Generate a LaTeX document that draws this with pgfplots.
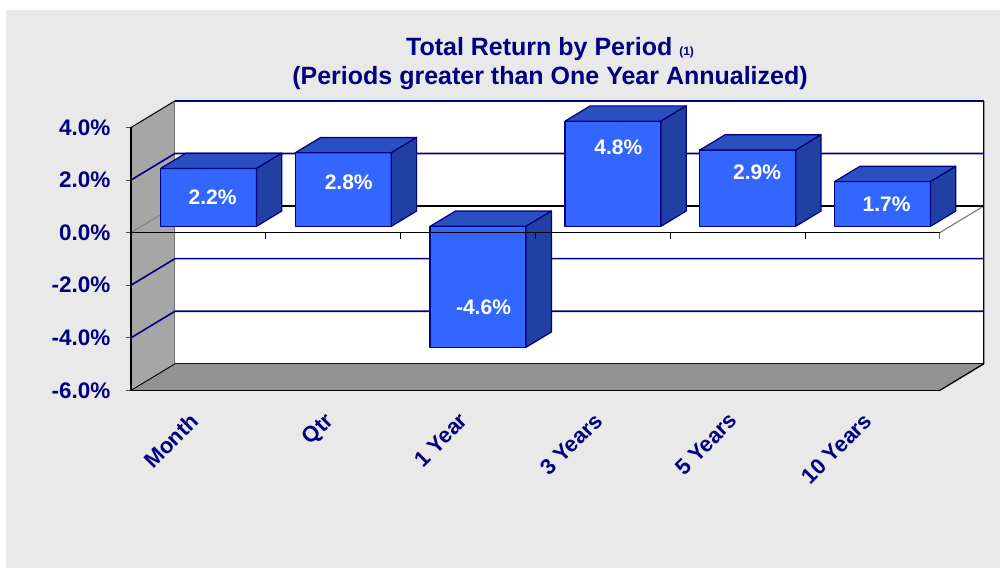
\documentclass[border=0pt]{standalone}
\usepackage{pgfplots}
\pgfplotsset{compat=1.18}
\usepackage{fontspec}
\setmainfont{Liberation Sans}
\definecolor{bgc}{HTML}{E9E9E9}
\definecolor{navyc}{HTML}{000080}
\definecolor{wallc}{HTML}{A6A6A6}
\definecolor{floorc}{HTML}{929292}
\definecolor{facec}{HTML}{3366FF}
\definecolor{topc}{HTML}{2A50BF}
\definecolor{sidec}{HTML}{2140A3}
\pgfplotsset{
  frame/.style={scale only axis,width=853pt,height=290pt,at={(131pt,177.6pt)},anchor=south west,
    xmin=0,xmax=6.328,ymin=-6,ymax=5.03,clip=false},
  barframe/.style={scale only axis,width=853pt,height=290pt,at={(131pt,177.6pt)},anchor=south west,
    xmin=-0.575,xmax=5.753,ymin=-6.24,ymax=4.79,clip=false,hide axis},
}
\begin{document}
\begin{tikzpicture}[x=1pt,y=1pt]
\useasboundingbox (0,0) rectangle (1000,568);
\fill[white] (0,0) rectangle (1000,568);
\fill[bgc] (6,0) rectangle (1000,558);
\node[font=\fontsize{25}{29}\selectfont\bfseries,text=navyc,align=center] at (550,504)
  {Total Return by Period {\fontsize{12}{12}\selectfont (1)}\\(Periods greater than One Year Annualized)};
% walls, floor and grid
\begin{axis}[frame,
  axis line style={draw=none},
  tick pos=left,
  xtick={0.5,1.5,2.5,3.5,4.5,5.5},
  xticklabels={Month,Qtr,1 Year,3 Years,5 Years,10 Years},
  x tick style={draw=none},
  xticklabel style={rotate=45,anchor=north east,font=\fontsize{22}{22}\selectfont\bfseries,text=navyc,xshift=-14.8pt,yshift=-1pt},
  ytick={-6,-4,-2,0,2,4},
  yticklabels={-6.0\%,-4.0\%,-2.0\%,0.0\%,2.0\%,4.0\%},
  y tick style={draw=black!70,line width=0.8pt},
  tick align=outside, major tick length=5pt,
  yticklabel style={font=\fontsize{22.5}{22.5}\selectfont\bfseries,text=navyc,xshift=-12pt},
]
\addplot[draw=none,fill=white] coordinates {(0.326,-4.99)(6.326,-4.99)(6.326,5.01)(0.326,5.01)} -- cycle;
\addplot[draw=none,fill=wallc] coordinates {(0,-6)(0.326,-4.99)(0.326,5.01)(0,4)} -- cycle;
\addplot[draw=none,fill=floorc] coordinates {(0,-6)(6,-6)(6.326,-4.99)(0.326,-4.99)} -- cycle;
\addplot[draw=black!55,line width=1pt] coordinates {(0.326,5.01)(0.326,-4.99)};
\addplot[draw=navyc,line width=1.6pt] coordinates {(0,2)(0.326,3.01)(6.326,3.01)};
\addplot[draw=navyc,line width=1.6pt] coordinates {(0,-2)(0.326,-0.99)(6.326,-0.99)};
\addplot[draw=navyc,line width=1.6pt] coordinates {(0,-4)(0.326,-2.99)(6.326,-2.99)};
\addplot[draw=navyc,line width=0.8pt] coordinates {(0.326,-4.99)(6.326,-4.99)};
\addplot[draw=navyc,line width=1.6pt] coordinates {(0.326,5.01)(6.326,5.01)};
\addplot[draw=black,line width=1pt] coordinates {(0,4)(0.326,5.01)};
\addplot[draw=black,line width=0.9pt] coordinates {(0,-6)(0.326,-4.99)};
\addplot[draw=black!50,line width=1pt] coordinates {(0,0)(0.326,1.01)};
\addplot[draw=black!50,line width=1.2pt] coordinates {(6,0)(6.326,1.01)};
\addplot[draw=black,line width=1.4pt] coordinates {(0.326,1.01)(6.326,1.01)};
\addplot[draw=black,line width=1.3pt] coordinates {(6.326,5.01)(6.326,-4.99)(6,-6)};
\addplot[draw=black,line width=1.7pt] coordinates {(0,4)(0,-6)(6,-6)};
\end{axis}
% bars
\begin{axis}[barframe]
\addplot[ybar,bar width=96pt,bar shift=0pt,fill=facec,draw=navyc,line width=1.3pt,
  y filter/.expression={min(y,4)}] table[row sep=\\] {
x y\\ 0 2.2\\ 1 2.8\\ 2 -4.6\\ 3 4.8\\ 4 2.9\\ 5 1.7\\ };
\pgfplotsset{every axis plot/.append style={draw=navyc,line width=1.2pt,line join=round}}
% Month
\addplot[fill=topc] coordinates {(-0.356,2.2)(0.356,2.2)(0.544,2.782)(-0.168,2.782)} -- cycle;
\addplot[fill=sidec] coordinates {(0.356,0)(0.356,2.2)(0.544,2.782)(0.544,0.582)} -- cycle;
% Qtr
\addplot[fill=topc] coordinates {(0.644,2.8)(1.356,2.8)(1.544,3.382)(0.832,3.382)} -- cycle;
\addplot[fill=sidec] coordinates {(1.356,0)(1.356,2.8)(1.544,3.382)(1.544,0.582)} -- cycle;
% 1 Year
\addplot[fill=topc] coordinates {(1.644,0)(2.356,0)(2.544,0.582)(1.832,0.582)} -- cycle;
\addplot[fill=sidec] coordinates {(2.356,-4.6)(2.356,0)(2.544,0.582)(2.544,-4.018)} -- cycle;
% 3 Years (cut off at the 4.0 axis maximum)
\addplot[fill=topc] coordinates {(2.644,4)(3.356,4)(3.544,4.582)(2.832,4.582)} -- cycle;
\addplot[fill=sidec] coordinates {(3.356,0)(3.356,4)(3.544,4.582)(3.544,0.582)} -- cycle;
% 5 Years
\addplot[fill=topc] coordinates {(3.644,2.9)(4.356,2.9)(4.544,3.482)(3.832,3.482)} -- cycle;
\addplot[fill=sidec] coordinates {(4.356,0)(4.356,2.9)(4.544,3.482)(4.544,0.582)} -- cycle;
% 10 Years
\addplot[fill=topc] coordinates {(4.644,1.7)(5.356,1.7)(5.544,2.282)(4.832,2.282)} -- cycle;
\addplot[fill=sidec] coordinates {(5.356,0)(5.356,1.7)(5.544,2.282)(5.544,0.582)} -- cycle;
\end{axis}
% front zero line and labels over the bars
\begin{axis}[frame,hide axis]
\addplot[draw=black,line width=1.3pt] coordinates {(0,0)(6,0)};
\addplot[draw=black,line width=1pt] coordinates {(1,0)(1,-0.23)};
\addplot[draw=black,line width=1pt] coordinates {(2,0)(2,-0.23)};
\addplot[draw=black,line width=1pt] coordinates {(3,0)(3,-0.23)};
\addplot[draw=black,line width=1pt] coordinates {(4,0)(4,-0.23)};
\addplot[draw=black,line width=1pt] coordinates {(5,0)(5,-0.23)};
\addplot[draw=black!60,line width=1pt] coordinates {(6,0)(6,-0.23)};
\end{axis}
\begin{axis}[barframe]
\addplot[draw=none,mark=none,point meta=explicit symbolic,
  nodes near coords={\pgfplotspointmeta\%},
  every node near coord/.append style={anchor=center,text=white,font=\fontsize{21}{21}\selectfont\bfseries}]
  table[row sep=\\,meta=v] {
x y v\\
0.03 1.09 2.2\\
1.04 1.66 2.8\\
2.04 -3.09 -4.6\\
3.04 2.99 4.8\\
4.07 2.04 2.9\\
5.03 0.83 1.7\\
};
\end{axis}
\end{tikzpicture}
\end{document}
